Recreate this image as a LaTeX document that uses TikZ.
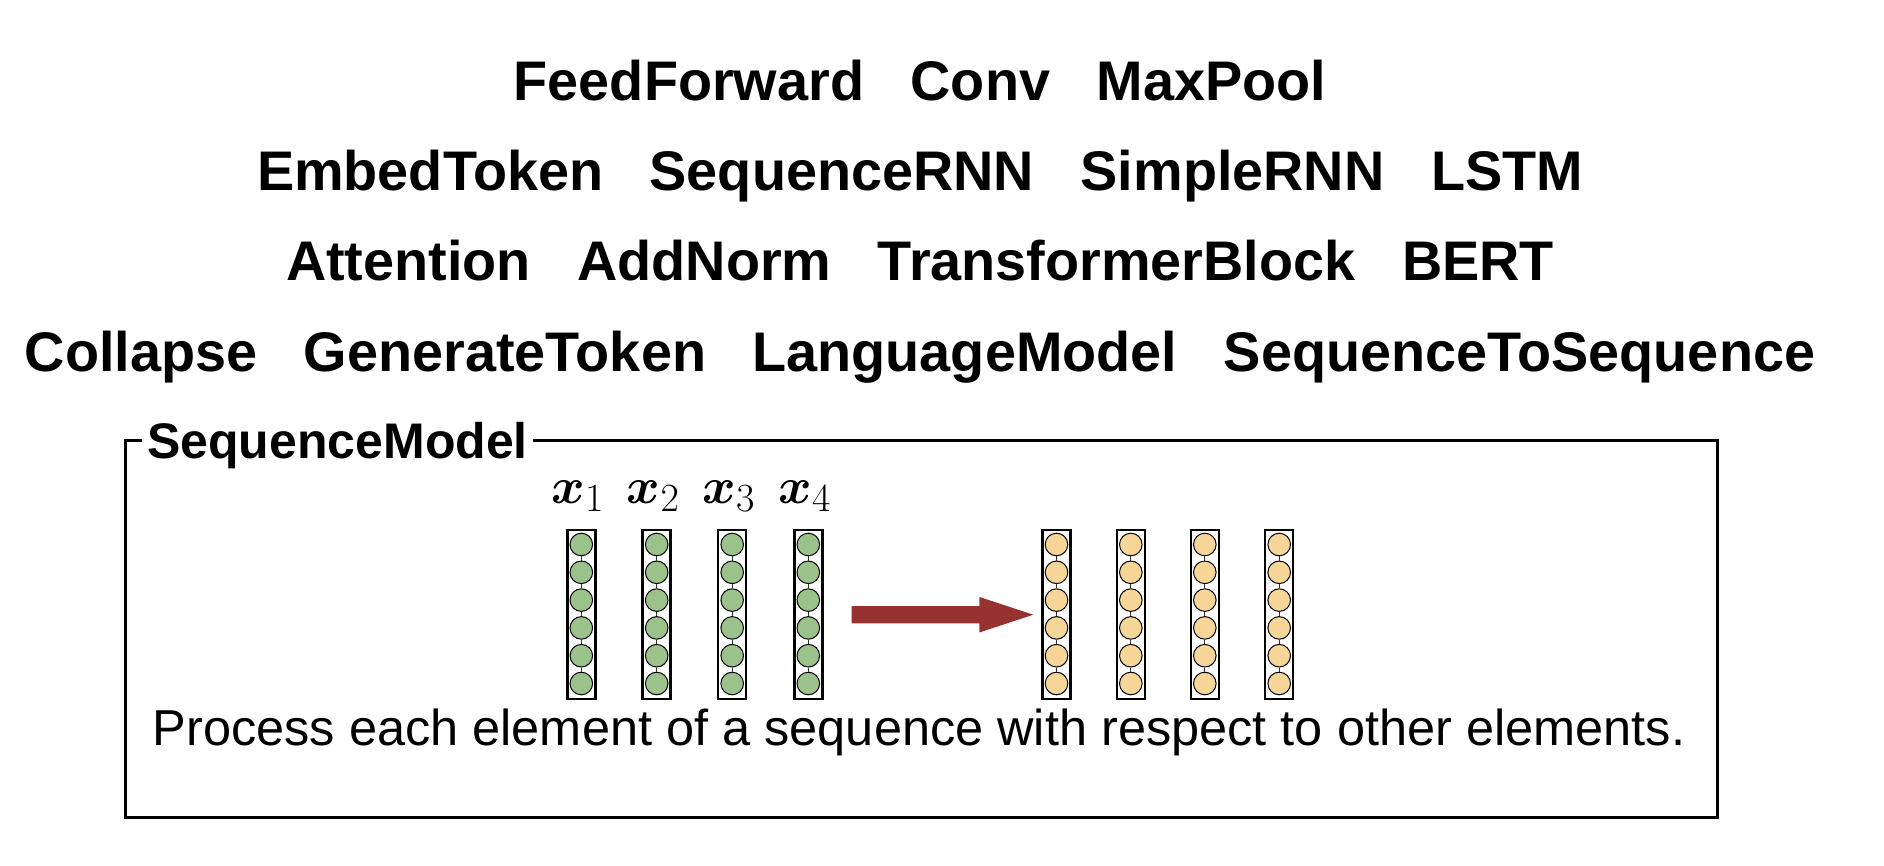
\documentclass[tikz,border=0pt]{standalone}
\usepackage{fix-cm}
\usepackage{bm}
\usepackage[no-math]{fontspec}
\setmainfont{Liberation Sans}
\DeclareMathSizes{51}{51}{40}{30}
\usetikzlibrary{calc}
\definecolor{vgreen}{RGB}{155,194,139}
\definecolor{vorange}{RGB}{246,213,152}
\definecolor{arrowred}{RGB}{150,51,48}
\begin{document}
\begin{tikzpicture}[x=1pt,y=-1pt,
  toprow/.style={font=\fontsize{55.8}{66}\selectfont\bfseries, anchor=base, inner sep=0pt},
  framebox/.style={draw=black, line width=3pt, minimum width=1592pt, minimum height=377pt, inner sep=0pt},
  framelabel/.style={font=\fontsize{50}{60}\selectfont\bfseries, fill=white, inner xsep=5pt, inner ysep=2pt, anchor=base west},
  captiontext/.style={font=\fontsize{50.5}{60}\selectfont, anchor=base, inner sep=0pt},
  vecbox/.style={draw=black, line width=2.5pt, minimum width=28pt, minimum height=169pt, inner sep=0pt},
  unit/.style={circle, draw=black, line width=1pt, minimum size=22.6pt, inner sep=0pt},
  link/.style={draw=black!80, line width=1pt},
  xlab/.style={font=\fontsize{51}{60}\selectfont, anchor=base, inner sep=0pt},
  bigarrow/.style={fill=arrowred}
]
\useasboundingbox (0,0) rectangle (1884,866);

% top rows of module names
\node[toprow] (row1) at (920,101) {FeedForward~~~Conv~~~MaxPool};
\node[toprow] (row2) at (920,191) {EmbedToken~~~SequenceRNN~~~SimpleRNN~~~LSTM};
\node[toprow] (row3) at (920,281) {Attention~~~AddNorm~~~TransformerBlock~~~BERT};
\node[toprow] (row4) at (920,371) {Collapse~~~GenerateToken~~~LanguageModel~~~SequenceToSequence};

% frame
\node[framebox] (frame) at (921,628.5) {};
\node[framelabel] (title) at (142,458) {SequenceModel};

% input vectors
\foreach \i/\cx in {1/581.3,2/656.7,3/732.2,4/808.3} {
  \node[vecbox] (g\i) at (\cx,614.25) {};
  \foreach \k in {1,...,6}
    \node[unit, fill=vgreen] (g\i-\k) at (\cx,{544.5+27.8*(\k-1)}) {};
  \foreach \k [count=\j from 2] in {1,...,5}
    \draw[link] (g\i-\k) -- (g\i-\j);
  \node[xlab] (x\i) at ({\cx-3.5},503) {$\bm{x}_{\i}$};
}

% output vectors
\foreach \i/\cx in {1/1056.5,2/1130.8,3/1204.8,4/1279.2} {
  \node[vecbox] (o\i) at (\cx,614.25) {};
  \foreach \k in {1,...,6}
    \node[unit, fill=vorange] (o\i-\k) at (\cx,{544.5+27.8*(\k-1)}) {};
  \foreach \k [count=\j from 2] in {1,...,5}
    \draw[link] (o\i-\k) -- (o\i-\j);
}

% big arrow
\coordinate (arrS) at (851.7,614.7);
\coordinate (arrE) at (1033.3,614.7);
\fill[bigarrow] ($(arrS)+(0,-8.6)$) -- ($(arrE)+(-54,-8.6)$) -- ($(arrE)+(-54,-17.8)$)
  -- (arrE) -- ($(arrE)+(-54,17.8)$) -- ($(arrE)+(-54,8.6)$) -- ($(arrS)+(0,8.6)$) -- cycle;

% caption
\node[captiontext] (caption) at (919,745) {Process each element of a sequence with respect to other elements.};
\end{tikzpicture}
\end{document}
